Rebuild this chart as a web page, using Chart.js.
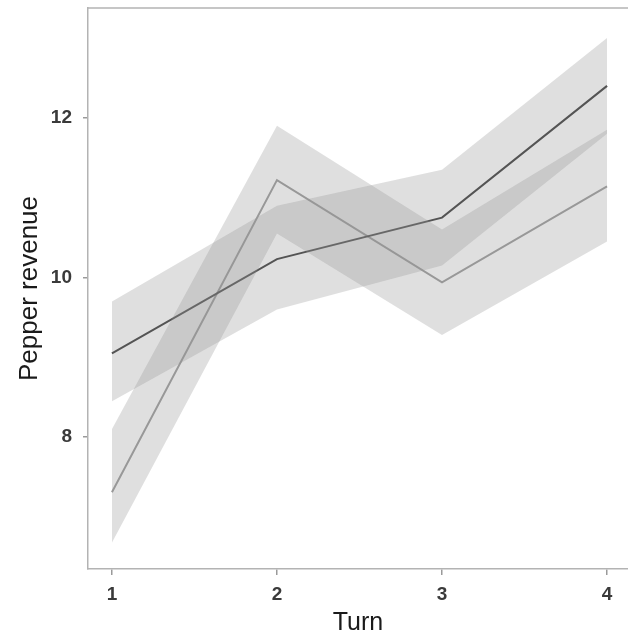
<!DOCTYPE html>
<html>
<head>
<meta charset="utf-8">
<script src="https://cdn.jsdelivr.net/npm/chart.js@4/dist/chart.umd.min.js"></script>
<style>
  html, body { margin: 0; padding: 0; background: #ffffff; }
  #wrap { width: 628px; height: 642px; position: relative; }
</style>
</head>
<body>
<div id="wrap"><canvas id="c" width="628" height="642"></canvas></div>
<script>
// Turns on the x axis
const turns = [1, 2, 3, 4];
const xTicks = [1, 2, 3, 4];
const yTicks = [8, 10, 12];

// Series A (dark line) and its interval band
const seriesA = [9.05, 10.23, 10.75, 12.4];
const seriesALow = [8.45, 9.6, 10.15, 11.8];
const seriesAHigh = [9.7, 10.9, 11.35, 13.0];

// Series B (light line) and its interval band
const seriesB = [7.31, 11.22, 9.94, 11.14];
const seriesBLow = [6.68, 10.55, 9.28, 10.45];
const seriesBHigh = [8.1, 11.9, 10.6, 11.85];

const pts = arr => arr.map((v, i) => ({ x: turns[i], y: v }));

const bandFill = 'rgba(150,150,150,0.3)';
const band = (data, fill) => ({
  data: pts(data), fill: fill, backgroundColor: bandFill,
  borderWidth: 0, pointRadius: 0, tension: 0
});

// Draws the top frame line of the plot panel
const topFrame = {
  id: 'topFrame',
  afterDraw(chart) {
    const { ctx, chartArea } = chart;
    ctx.save();
    ctx.strokeStyle = '#b3b3b3';
    ctx.lineWidth = 1.5;
    ctx.beginPath();
    ctx.moveTo(chartArea.left, chartArea.top);
    ctx.lineTo(chartArea.right, chartArea.top);
    ctx.stroke();
    ctx.restore();
  }
};

new Chart(document.getElementById('c'), {
  type: 'line',
  data: {
    datasets: [
      band(seriesAHigh, '+1'),
      band(seriesALow, false),
      band(seriesBHigh, '+1'),
      band(seriesBLow, false),
      { data: pts(seriesA), borderColor: '#383838', borderWidth: 2, pointRadius: 0, fill: false, tension: 0 },
      { data: pts(seriesB), borderColor: '#9a9a9a', borderWidth: 2, pointRadius: 0, fill: false, tension: 0 }
    ]
  },
  options: {
    responsive: false,
    animation: false,
    layout: { padding: { top: 8, right: 0, left: 0, bottom: 0 } },
    plugins: { legend: { display: false }, tooltip: { enabled: false } },
    scales: {
      x: {
        type: 'linear',
        min: 0.855,
        max: 4.127,
        afterBuildTicks: s => { s.ticks = xTicks.map(v => ({ value: v })); },
        afterFit: s => { s.height = 73; s.paddingLeft = 0; s.paddingRight = 0; },
        grid: { drawOnChartArea: false, drawTicks: true, tickLength: 6, color: '#9a9a9a', lineWidth: 1.5 },
        border: { display: true, color: '#b3b3b3', width: 1.5 },
        ticks: {
          padding: 8,
          color: '#3a3a3a',
          font: { family: 'Liberation Sans, Arial, sans-serif', size: 19, weight: 'bold' },
          callback: v => String(v)
        },
        title: {
          display: true, text: 'Turn', color: '#1a1a1a',
          font: { family: 'Liberation Sans, Arial, sans-serif', size: 25 },
          padding: { top: 0, bottom: 4 }
        }
      },
      y: {
        type: 'linear',
        min: 6.35,
        max: 13.375,
        afterBuildTicks: s => { s.ticks = yTicks.map(v => ({ value: v })); },
        afterFit: s => { s.width = 88; s.paddingTop = 0; s.paddingBottom = 0; },
        grid: { drawOnChartArea: false, drawTicks: true, tickLength: 5, color: '#9a9a9a', lineWidth: 1.5 },
        border: { display: true, color: '#b3b3b3', width: 1.5 },
        ticks: {
          padding: 11,
          color: '#3a3a3a',
          font: { family: 'Liberation Sans, Arial, sans-serif', size: 19, weight: 'bold' },
          callback: v => String(v)
        },
        title: {
          display: true, text: 'Pepper revenue', color: '#1a1a1a',
          font: { family: 'Liberation Sans, Arial, sans-serif', size: 26 },
          padding: { top: 14, bottom: 0 }
        }
      }
    }
  },
  plugins: [topFrame]
});
</script>
</body>
</html>
